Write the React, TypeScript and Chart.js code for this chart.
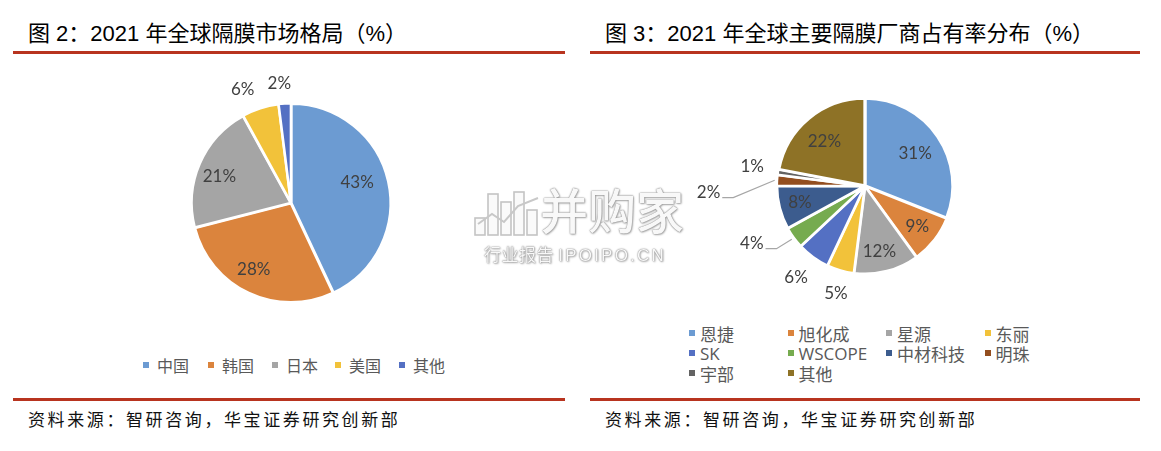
import React, { useEffect, useRef } from 'react';
import { Chart, registerables } from 'chart.js';

Chart.register(...registerables);

// ---------- data ----------
const leftCategories = ['中国', '韩国', '日本', '美国', '其他'];
const leftValues = [43, 28, 21, 6, 2];

const rightCategories = ['恩捷', '旭化成', '星源', '东丽', 'SK', 'WSCOPE', '中材科技', '明珠', '宇部', '其他'];
const rightValues = [31, 9, 12, 5, 6, 4, 8, 2, 1, 22];

// ---------- styles ----------
const leftColors = ['#6C9BD2', '#DB843D', '#A5A5A5', '#F2C23A', '#5470C3'];
const rightColors = ['#6C9BD2', '#DB843D', '#A5A5A5', '#F2C23A', '#5470C3', '#76AB4F', '#3C5C8E', '#934E1F', '#636363', '#8E7226'];

// label placement: distance (fraction of radius) and angle nudge (degrees)
const leftLabelDist = [0.69, 0.76, 0.76, 1.23, 1.19];
const leftLabelShift = [-5, 4, -3, -5, -2];
const leftLeader = [false, false, false, false, false];

const rightLabelDist = [0.67, 0.74, 0.75, 1.24, 1.28, 1.42, 0.75, 1.75, 1.28, 0.67];
const rightLabelShift = [1, 0, 2, -1, 1, 9, 0, -6, 1, -3];
const rightLeader = [false, false, false, false, false, true, false, true, false, false];

const RED = '#B8341F';
const CJK = "'Liberation Sans', 'Noto Sans CJK SC', sans-serif";
const LABEL_FONT = "17px Lato, 'Open Sans', sans-serif";

function makeLabelPlugin(dist: number[], shift: number[], leader: boolean[], offset: number) {
  return {
    id: 'sliceLabels',
    afterDatasetsDraw(chart: any) {
      const ctx = chart.ctx;
      const meta = chart.getDatasetMeta(0);
      const ds = chart.data.datasets[0];
      ctx.save();
      ctx.font = LABEL_FONT;
      ctx.fillStyle = '#404040';
      ctx.textAlign = 'center';
      ctx.textBaseline = 'middle';
      meta.data.forEach((arc: any, i: number) => {
        const p = arc.getProps(['x', 'y', 'startAngle', 'endAngle', 'outerRadius'], true);
        const R = p.outerRadius + offset;
        const mid = (p.startAngle + p.endAngle) / 2;
        const a = mid + (shift[i] * Math.PI) / 180;
        const lx = p.x + Math.cos(a) * R * dist[i];
        const ly = p.y + Math.sin(a) * R * dist[i];
        const text = ds.data[i] + '%';
        ctx.fillText(text, lx, ly);
        if (leader[i]) {
          const ex = p.x + Math.cos(mid) * (R + 1);
          const ey = p.y + Math.sin(mid) * (R + 1);
          const w = ctx.measureText(text).width;
          const rx = lx + w / 2;
          ctx.beginPath();
          ctx.moveTo(ex, ey);
          ctx.lineTo(rx + 13, ly + 5);
          ctx.lineTo(rx + 2, ly + 5);
          ctx.strokeStyle = '#A6A6A6';
          ctx.lineWidth = 1.2;
          ctx.stroke();
        }
      });
      ctx.restore();
    },
  };
}

function PieCanvas(props: {
  values: number[];
  labels: string[];
  colors: string[];
  radius: number;
  offset: number;
  border: number;
  dist: number[];
  shift: number[];
  leader: boolean[];
  width: number;
  height: number;
  left: number;
  top: number;
}) {
  const ref = useRef<HTMLCanvasElement | null>(null);
  useEffect(() => {
    if (!ref.current) return;
    const chart = new Chart(ref.current, {
      type: 'pie',
      data: {
        labels: props.labels,
        datasets: [
          {
            data: props.values,
            backgroundColor: props.colors,
            borderColor: '#ffffff',
            borderWidth: props.border,
            offset: props.offset,
            radius: props.radius,
          } as any,
        ],
      },
      options: {
        responsive: false,
        animation: false,
        devicePixelRatio: 1,
        events: [],
        layout: { padding: 0 },
        plugins: { legend: { display: false }, tooltip: { enabled: false } },
      } as any,
      plugins: [makeLabelPlugin(props.dist, props.shift, props.leader, props.offset)],
    });
    return () => chart.destroy();
  }, []);
  return (
    <canvas
      ref={ref}
      width={props.width}
      height={props.height}
      style={{ position: 'absolute', left: props.left, top: props.top, width: props.width, height: props.height }}
    />
  );
}

function Legend(props: { items: string[]; colors: string[]; positions: [number, number][]; fontSize: number; gap: number }) {
  return (
    <>
      {props.items.map((t, i) => (
        <div
          key={t + i}
          style={{
            position: 'absolute',
            left: props.positions[i][0],
            top: props.positions[i][1] - 12,
            height: 24,
            display: 'flex',
            alignItems: 'center',
            fontFamily: "'Open Sans', 'Noto Sans CJK SC', sans-serif",
            fontSize: props.fontSize,
            color: '#595959',
            whiteSpace: 'nowrap',
          }}
        >
          <span style={{ display: 'inline-block', width: 6, height: 6, background: props.colors[i], marginRight: props.gap }} />
          <span>{t}</span>
        </div>
      ))}
    </>
  );
}

function Watermark() {
  const shadow = '0 0 1px #7a7a7a, 0 0 2px #9a9a9a, 1px 1px 2px #b5b5b5';
  return (
    <div style={{ position: 'absolute', left: 470, top: 180, width: 240, height: 92 }}>
      <svg width={72} height={54} style={{ position: 'absolute', left: 2, top: 8 }}>
        <g fill="#fafafa" stroke="#c4c4c4" strokeWidth={1.6}>
          <rect x={3} y={30} width={10} height={17} />
          <rect x={16} y={6} width={10} height={41} />
          <rect x={29} y={14} width={10} height={33} />
          <rect x={42} y={4} width={10} height={43} />
          <rect x={55} y={22} width={10} height={25} />
        </g>
        <polyline points="6,36 20,26 32,34 46,18 66,10" fill="none" stroke="#c8c8c8" strokeWidth={2} />
      </svg>
      <div
        style={{
          position: 'absolute',
          left: 70,
          top: -1,
          fontFamily: "'Noto Sans CJK SC', sans-serif",
          fontSize: 48,
          fontWeight: 500,
          lineHeight: '58px',
          color: '#f8f8f8',
          textShadow: shadow,
          whiteSpace: 'nowrap',
        }}
      >
        并购家
      </div>
      <div
        style={{
          position: 'absolute',
          left: 14,
          top: 64,
          fontFamily: "'Noto Sans CJK SC', sans-serif",
          fontSize: 17,
          lineHeight: '20px',
          color: '#f8f8f8',
          textShadow: shadow,
          whiteSpace: 'nowrap',
          letterSpacing: 0.5,
        }}
      >
        行业报告 <span style={{ fontFamily: "'Liberation Sans', sans-serif", letterSpacing: 2.2 }}>IPOIPO.CN</span>
      </div>
    </div>
  );
}

const titleStyle: React.CSSProperties = {
  position: 'absolute',
  top: 21,
  fontFamily: CJK,
  fontSize: 22,
  lineHeight: '26px',
  color: '#000',
  whiteSpace: 'nowrap',
};

const sourceStyle: React.CSSProperties = {
  position: 'absolute',
  top: 409,
  fontFamily: "'Noto Sans CJK SC', sans-serif",
  fontSize: 17,
  lineHeight: '20px',
  color: '#111',
  letterSpacing: 2.6,
  whiteSpace: 'nowrap',
};

export default function App() {
  const leftLegendPos: [number, number][] = [
    [143, 365],
    [208, 365],
    [272, 365],
    [335, 365],
    [399, 365],
  ];
  const rightLegendPos: [number, number][] = rightCategories.map((_, i) => {
    const col = i % 4;
    const row = Math.floor(i / 4);
    return [689 + col * 98.5, 333 + row * 20] as [number, number];
  });
  return (
    <div style={{ position: 'fixed', left: 0, top: 0, width: 1161, height: 451, background: '#fff', overflow: 'hidden' }}>
      {/* left panel */}
      <div style={{ ...titleStyle, left: 28 }}>图 2：2021 年全球隔膜市场格局（%）</div>
      <div style={{ position: 'absolute', left: 13, top: 51, width: 552, height: 3, background: RED }} />
      <PieCanvas
        values={leftValues}
        labels={leftCategories}
        colors={leftColors}
        radius={99}
        offset={1.5}
        border={2.5}
        dist={leftLabelDist}
        shift={leftLabelShift}
        leader={leftLeader}
        width={300}
        height={260}
        left={141}
        top={73}
      />
      <Legend items={leftCategories} colors={leftColors} positions={leftLegendPos} fontSize={16} gap={8} />
      <div style={{ position: 'absolute', left: 13, top: 398, width: 552, height: 3, background: RED }} />
      <div style={{ ...sourceStyle, left: 28 }}>资料来源：智研咨询，华宝证券研究创新部</div>

      {/* right panel */}
      <div style={{ ...titleStyle, left: 605 }}>图 3：2021 年全球主要隔膜厂商占有率分布（%）</div>
      <div style={{ position: 'absolute', left: 590, top: 51, width: 550, height: 3, background: RED }} />
      <PieCanvas
        values={rightValues}
        labels={rightCategories}
        colors={rightColors}
        radius={87}
        offset={2.5}
        border={2.5}
        dist={rightLabelDist}
        shift={rightLabelShift}
        leader={rightLeader}
        width={360}
        height={260}
        left={685}
        top={56}
      />
      <Legend items={rightCategories} colors={rightColors} positions={rightLegendPos} fontSize={17} gap={5} />
      <div style={{ position: 'absolute', left: 590, top: 398, width: 550, height: 3, background: RED }} />
      <div style={{ ...sourceStyle, left: 605 }}>资料来源：智研咨询，华宝证券研究创新部</div>

      <Watermark />
    </div>
  );
}
